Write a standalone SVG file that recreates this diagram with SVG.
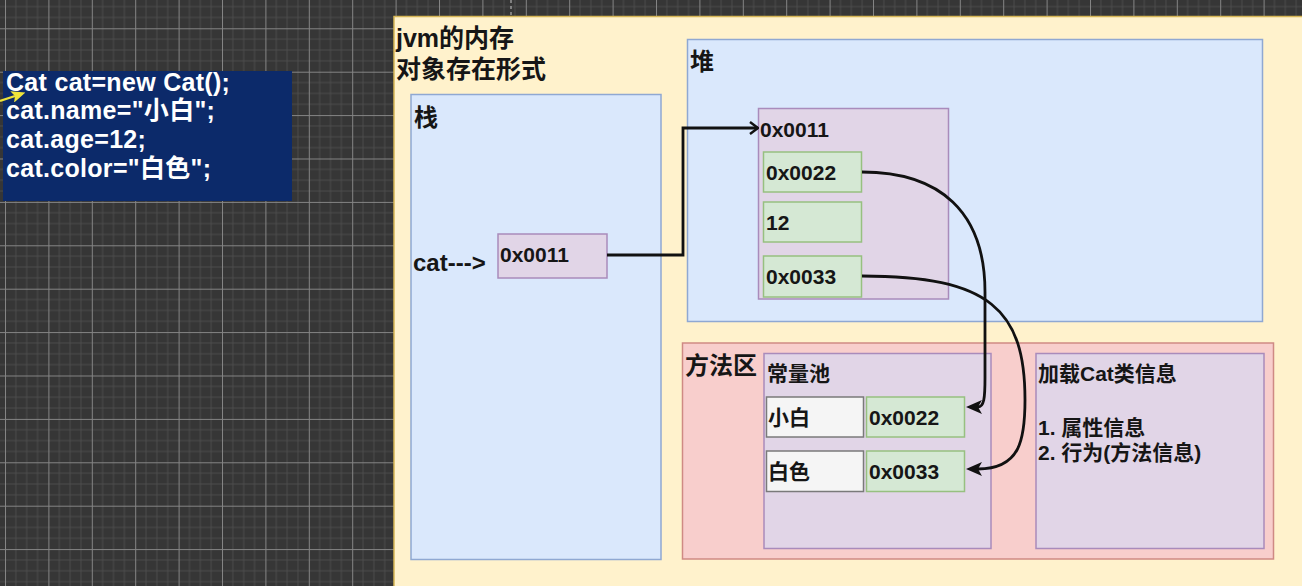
<svg xmlns="http://www.w3.org/2000/svg" width="1302" height="586" viewBox="0 0 1302 586">
  <style>
    .t { font-family: "Liberation Sans", "Noto Sans CJK SC", sans-serif; font-weight: bold; fill: #161616; }
    .code { font-family: "Liberation Sans", "Noto Sans CJK SC", sans-serif; font-weight: bold; fill: #ffffff; font-size: 25px; letter-spacing: 0.3px; }
    .title { font-size: 25px; }
    .head { font-size: 24px; }
    .lbl { font-size: 21px; }
    .blue { fill: #dae8fc; stroke: #8fa8d2; stroke-width: 1.5; }
    .purple { fill: #e1d5e7; stroke: #a98bbb; stroke-width: 1.5; }
    .green { fill: #d5e8d4; stroke: #97c080; stroke-width: 1.5; }
    .red { fill: #f8cecc; stroke: #cf8a84; stroke-width: 1.5; }
    .gray { fill: #f5f5f5; stroke: #7a7a7a; stroke-width: 1.5; }
    .edge { fill: none; stroke: #111111; stroke-width: 2.8; }
  </style>
  <defs>
    <pattern id="grid" x="5" y="28.3" width="43.4" height="43.4" patternUnits="userSpaceOnUse">
      <rect width="43.4" height="43.4" fill="#363636"/>
      <g stroke="#4c4c4c" stroke-width="1">
        <line x1="10.85" y1="0" x2="10.85" y2="43.4"/>
        <line x1="21.7" y1="0" x2="21.7" y2="43.4"/>
        <line x1="32.55" y1="0" x2="32.55" y2="43.4"/>
        <line x1="0" y1="10.85" x2="43.4" y2="10.85"/>
        <line x1="0" y1="21.7" x2="43.4" y2="21.7"/>
        <line x1="0" y1="32.55" x2="43.4" y2="32.55"/>
      </g>
      <g stroke="#858585" stroke-width="1">
        <line x1="0.5" y1="0" x2="0.5" y2="43.4"/>
        <line x1="0" y1="0.5" x2="43.4" y2="0.5"/>
      </g>
    </pattern>
    <marker id="classic" markerUnits="userSpaceOnUse" viewBox="0 0 16 14" markerWidth="16" markerHeight="14" refX="4" refY="7" orient="auto">
      <path d="M0,0 L16,7 L0,14 L4,7 z" fill="#111111"/>
    </marker>
    <marker id="open" markerUnits="userSpaceOnUse" viewBox="0 0 10 14" markerWidth="10" markerHeight="14" refX="9" refY="7" orient="auto">
      <path d="M1,1 L9,7 L1,13" fill="none" stroke="#111111" stroke-width="2.4"/>
    </marker>
    <marker id="cursor" markerUnits="userSpaceOnUse" viewBox="0 0 14 12" markerWidth="14" markerHeight="12" refX="3" refY="6" orient="auto">
      <path d="M0,0 L14,6 L0,12 L3,6 z" fill="#eee43a"/>
    </marker>
  </defs>

  <!-- canvas grid -->
  <rect x="0" y="0" width="1302" height="586" fill="url(#grid)"/>
  <line x1="511" y1="0" x2="511" y2="16" stroke="#c8c8c8" stroke-width="1" stroke-dasharray="3,3"/>

  <!-- source code card -->
  <g id="code">
    <rect x="3" y="71" width="289" height="130" fill="#0c2a6a"/>
    <text class="code" x="6" y="90.5">Cat cat=new Cat();</text>
    <text class="code" x="6" y="119.3">cat.name="小白";</text>
    <text class="code" x="6" y="148">cat.age=12;</text>
    <text class="code" x="6" y="176.7">cat.color="白色";</text>
  </g>
  <path d="M0,101 L15,96" fill="none" stroke="#eee43a" stroke-width="2.2" marker-end="url(#cursor)"/>

  <!-- jvm memory container -->
  <g id="jvm">
    <rect x="394" y="16.5" width="920" height="580" fill="#fff2cc" stroke="#d6b656" stroke-width="1.5"/>
    <text class="t title" x="396" y="47">jvm的内存</text>
    <text class="t title" x="396" y="77.5">对象存在形式</text>
  </g>

  <!-- stack -->
  <g id="stack">
    <rect class="blue" x="411" y="94.5" width="250" height="465"/>
    <text class="t head" x="414" y="126">栈</text>
    <text class="t head" x="413" y="271">cat---&gt;</text>
  </g>
  <g id="stack-ref">
    <rect class="purple" x="498" y="234" width="109" height="44"/>
    <text class="t lbl" x="500" y="262">0x0011</text>
  </g>

  <!-- heap -->
  <g id="heap">
    <rect class="blue" x="687.5" y="39.5" width="575" height="282"/>
    <text class="t head" x="690" y="69.5">堆</text>
  </g>
  <g id="heap-object">
    <rect class="purple" x="758.5" y="108.5" width="190" height="190.5"/>
    <text class="t lbl" x="760" y="136.5">0x0011</text>
  </g>
  <g id="field-name">
    <rect class="green" x="763.5" y="152" width="98" height="40"/>
    <text class="t lbl" x="766" y="179.5">0x0022</text>
  </g>
  <g id="field-age">
    <rect class="green" x="763.5" y="202" width="98" height="40"/>
    <text class="t lbl" x="766" y="230">12</text>
  </g>
  <g id="field-color">
    <rect class="green" x="763.5" y="256" width="98" height="41"/>
    <text class="t lbl" x="766" y="283.5">0x0033</text>
  </g>

  <!-- method area -->
  <g id="method-area">
    <rect class="red" x="682.5" y="343" width="591" height="216"/>
    <text class="t head" x="685" y="373.5">方法区</text>
  </g>
  <g id="constant-pool">
    <rect class="purple" x="764" y="353.5" width="227" height="195"/>
    <text class="t lbl" x="767" y="381">常量池</text>
  </g>
  <g id="const-xiaobai">
    <rect class="gray" x="766.5" y="397" width="97" height="40"/>
    <text class="t lbl" x="768" y="424.5">小白</text>
  </g>
  <g id="const-0x0022">
    <rect class="green" x="866.5" y="397" width="98" height="40"/>
    <text class="t lbl" x="869" y="425">0x0022</text>
  </g>
  <g id="const-baise">
    <rect class="gray" x="766.5" y="451" width="97" height="40.5"/>
    <text class="t lbl" x="768" y="479">白色</text>
  </g>
  <g id="const-0x0033">
    <rect class="green" x="866.5" y="451" width="98" height="40.5"/>
    <text class="t lbl" x="869" y="478.5">0x0033</text>
  </g>
  <g id="class-info">
    <rect class="purple" x="1036" y="353.5" width="228" height="195"/>
    <text class="t lbl" x="1038" y="381">加载Cat类信息</text>
    <text class="t lbl" x="1038" y="434.5">1. 属性信息</text>
    <text class="t lbl" x="1038" y="459.5">2. 行为(方法信息)</text>
  </g>

  <!-- references -->
  <g id="connectors">
    <path class="edge" d="M607,255 L683,255 L683,128 L758,128" marker-end="url(#open)"/>
    <path class="edge" d="M862,172 C940,172 985,212 985,292 L985,378 C985,398 984,407 978,407" marker-end="url(#classic)"/>
    <path class="edge" d="M862,276 C990,276 1025,310 1025,400 C1025,440 1020,469 978,469" marker-end="url(#classic)"/>
  </g>
</svg>
